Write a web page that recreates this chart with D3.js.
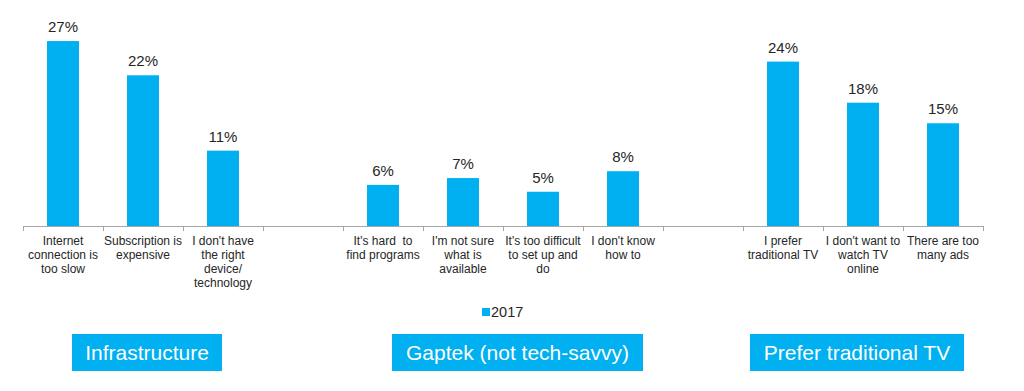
<!DOCTYPE html>
<html>
<head>
<meta charset="utf-8">
<script src="https://cdn.jsdelivr.net/npm/d3@7"></script>
<style>
  html, body { margin: 0; padding: 0; background: #fff; }
  svg { display: block; font-family: "Liberation Sans", Arial, sans-serif; }
</style>
</head>
<body>
<svg id="chart" width="1024" height="391"></svg>
<script>
// ---- data ----
const slots = ["s0","s1","s2","gap1","s4","s5","s6","s7","gap2","s9","s10","s11"];
const categories = [
  "Internet\nconnection is\ntoo slow",
  "Subscription is\nexpensive",
  "I don't have\nthe right\ndevice/\ntechnology",
  "It's hard  to\nfind programs",
  "I'm not sure\nwhat is\navailable",
  "It's too difficult\nto set up and\ndo",
  "I don't know\nhow to",
  "I prefer\ntraditional TV",
  "I don't want to\nwatch TV\nonline",
  "There are too\nmany ads"
];
const categorySlots = ["s0","s1","s2","s4","s5","s6","s7","s9","s10","s11"];
const values2017 = [27, 22, 11, 6, 7, 5, 8, 24, 18, 15];
const seriesName = "2017";
const groups = ["Infrastructure", "Gaptek (not tech-savvy)", "Prefer traditional TV"];

// ---- layout ----
const svg = d3.select("#chart");
const barColor = "#00b0f0";
const textColor = "#262626";
const baseY = 226;

const x = d3.scaleBand().domain(slots).range([23, 983]).padding(0);
const y = d3.scaleLinear().domain([0, 30]).range([baseY, baseY - 30 * 6.85]);
const barW = x.bandwidth() * 0.4;

const data = values2017.map((v, i) => ({ v, slot: categorySlots[i], label: categories[i] }));

// bars
svg.append("g").selectAll("rect").data(data).join("rect")
  .attr("x", d => x(d.slot) + (x.bandwidth() - barW) / 2)
  .attr("y", d => y(d.v))
  .attr("width", barW)
  .attr("height", d => y(0) - y(d.v))
  .attr("fill", barColor);

// value labels
svg.append("g").selectAll("text").data(data).join("text")
  .attr("x", d => x(d.slot) + x.bandwidth() / 2)
  .attr("y", d => y(d.v) - 9)
  .attr("text-anchor", "middle")
  .attr("font-size", 15)
  .attr("fill", textColor)
  .text(d => d.v + "%");

// axis line + ticks at slot boundaries
const axisG = svg.append("g");
axisG.append("line")
  .attr("x1", x.range()[0]).attr("x2", x.range()[1])
  .attr("y1", baseY + 0.5).attr("y2", baseY + 0.5)
  .attr("stroke", "#a6a6a6").attr("stroke-width", 1);
const boundaries = slots.map(s => x(s)).concat([x.range()[1]]);
axisG.selectAll("line.tick").data(boundaries).join("line")
  .attr("class", "tick")
  .attr("x1", d => Math.round(d) + 0.5).attr("x2", d => Math.round(d) + 0.5)
  .attr("y1", baseY).attr("y2", baseY + 5)
  .attr("stroke", "#a6a6a6").attr("stroke-width", 1);

// category labels
const catG = svg.append("g").selectAll("text").data(data).join("text")
  .attr("text-anchor", "middle")
  .attr("font-size", 12)
  .attr("fill", textColor);
catG.each(function(d) {
  const t = d3.select(this);
  d.label.split("\n").forEach((line, i) => {
    t.append("tspan")
      .attr("x", x(d.slot) + x.bandwidth() / 2)
      .attr("y", baseY + 19 + i * 14)
      .attr("xml:space", "preserve")
      .text(line);
  });
});

// legend
const leg = svg.append("g");
leg.append("rect").attr("x", 482).attr("y", 308).attr("width", 8).attr("height", 8).attr("fill", barColor);
leg.append("text").attr("x", 491).attr("y", 317).attr("font-size", 14.5).attr("fill", textColor).text(seriesName);

// group boxes
const boxes = [
  { x0: 72, x1: 222 },
  { x0: 392, x1: 643 },
  { x0: 750, x1: 964 }
];
const boxG = svg.append("g").selectAll("g").data(groups).join("g");
boxG.append("rect")
  .attr("x", (d, i) => boxes[i].x0)
  .attr("y", 334)
  .attr("width", (d, i) => boxes[i].x1 - boxes[i].x0)
  .attr("height", 37)
  .attr("fill", barColor);
boxG.append("text")
  .attr("x", (d, i) => (boxes[i].x0 + boxes[i].x1) / 2)
  .attr("y", 360)
  .attr("text-anchor", "middle")
  .attr("font-size", 21)
  .attr("fill", "#fff")
  .text(d => d);
</script>
</body>
</html>
